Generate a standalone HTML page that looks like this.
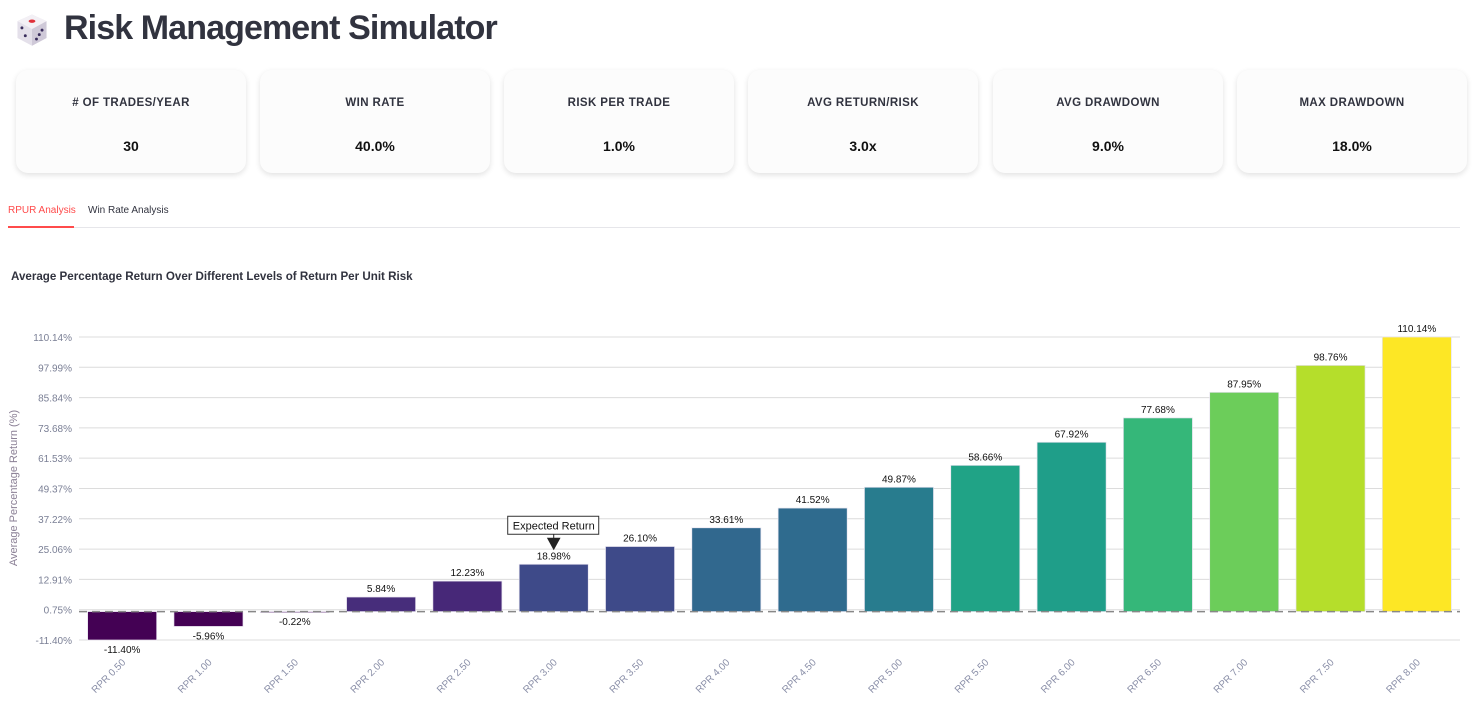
<!DOCTYPE html>
<html><head><meta charset="utf-8"><style>
body{margin:0;width:1472px;height:713px;background:#fff;font-family:"Liberation Sans",sans-serif;overflow:hidden;position:relative}
.title{position:absolute;left:64px;top:9px;font-size:34px;font-weight:bold;color:#31333f;letter-spacing:-0.9px}
.dice{position:absolute;left:13px;top:10px;width:38px;height:38px}
.card{position:absolute;top:70px;width:230px;height:103px;border-radius:12px;background:#fcfcfc;box-shadow:0 2px 6px rgba(0,0,0,0.12)}
.card .l{position:absolute;top:27px;width:100%;text-align:center;font-size:11.5px;font-weight:bold;letter-spacing:0.4px;color:#31333f}
.card .v{position:absolute;top:68px;width:100%;text-align:center;font-size:14px;font-weight:bold;color:#111}
.tab{position:absolute;top:205px;font-size:10px}
.ctitle{position:absolute;left:11px;top:270px;font-size:11.6px;font-weight:bold;color:#31333f}
</style></head><body>
<svg class="dice" viewBox="0 0 34 34">
<path d="M4 10 L17 4 L30 10 L30 25 L17 32 L4 25 Z" fill="#e4e0ea"/>
<path d="M17 17 L30 10 L30 25 L17 32 Z" fill="#cfc9d8"/>
<path d="M4 10 L17 4 L30 10 L17 17 Z" fill="#f3f0f5"/>
<ellipse cx="17" cy="10" rx="3" ry="1.5" fill="#e0303a"/>
<circle cx="8" cy="16" r="1.3" fill="#3a2d5c"/><circle cx="11" cy="23" r="1.3" fill="#3a2d5c"/>
<circle cx="21" cy="26" r="1.3" fill="#3a2d5c"/><circle cx="23.5" cy="22" r="1.3" fill="#3a2d5c"/><circle cx="26" cy="18" r="1.3" fill="#3a2d5c"/>
</svg>
<div class="title">Risk Management Simulator</div>

<div class="card" style="left:16px"><div class="l"># OF TRADES/YEAR</div><div class="v">30</div></div>
<div class="card" style="left:260px"><div class="l">WIN RATE</div><div class="v">40.0%</div></div>
<div class="card" style="left:504px"><div class="l">RISK PER TRADE</div><div class="v">1.0%</div></div>
<div class="card" style="left:748px"><div class="l">AVG RETURN/RISK</div><div class="v">3.0x</div></div>
<div class="card" style="left:993px"><div class="l">AVG DRAWDOWN</div><div class="v">9.0%</div></div>
<div class="card" style="left:1237px"><div class="l">MAX DRAWDOWN</div><div class="v">18.0%</div></div>

<div class="tab" style="left:8px;color:#ff4b4b">RPUR Analysis</div>
<div class="tab" style="left:88px;color:#31333f">Win Rate Analysis</div>
<div style="position:absolute;left:8px;top:227px;width:1452px;height:1px;background:#e6e6ea"></div>
<div style="position:absolute;left:8px;top:226px;width:66px;height:2px;background:#ff4b4b"></div>
<div class="ctitle">Average Percentage Return Over Different Levels of Return Per Unit Risk</div>

<svg id="chart" style="position:absolute;left:0;top:0" width="1472" height="713"></svg>
<script>
const categories=["RPR 0.50","RPR 1.00","RPR 1.50","RPR 2.00","RPR 2.50","RPR 3.00","RPR 3.50","RPR 4.00","RPR 4.50","RPR 5.00","RPR 5.50","RPR 6.00","RPR 6.50","RPR 7.00","RPR 7.50","RPR 8.00"];
const values=[-11.40,-5.96,-0.22,5.84,12.23,18.98,26.10,33.61,41.52,49.87,58.66,67.92,77.68,87.95,98.76,110.14];
const tickValues=[-11.40,0.75,12.91,25.06,37.22,49.37,61.53,73.68,85.84,97.99,110.14];
const expectedIndex=5;
const colors=["#440154","#440154","#440154","#472d7b","#472878","#3e4a89","#3e4a89","#31688e","#2f6b8e","#287c8e","#20a386","#1f9e89","#35b779","#6ccd5a","#b5de2b","#fde725"];
const NS="http://www.w3.org/2000/svg",svg=document.getElementById('chart');
const X0=79,X1=1460,Y0=640,Y1=337,vmin=-11.40,vmax=110.14;
const band=(X1-X0)/categories.length;
const y=v=>Y0-(v-vmin)/(vmax-vmin)*(Y0-Y1);
const xc=i=>X0+band*(i+0.5);
function mk(t,a){const e=document.createElementNS(NS,t);for(const k in a)e.setAttribute(k,a[k]);svg.appendChild(e);return e;}
tickValues.forEach(t=>{
  const g=mk('line',{x1:X0,x2:X1,y1:y(t),y2:y(t),stroke:'#dcdcdc','stroke-width':1});
  
  
  const l=mk('text',{x:72,y:y(t)+4,'text-anchor':'end','font-size':10,fill:'#7a7f95','font-family':'Liberation Sans, sans-serif'});
  l.textContent=t.toFixed(2)+'%';
  
  
});
const yt=mk('text',{x:17,y:488,transform:'rotate(-90 17 488)','text-anchor':'middle','font-size':11,fill:'#8a7f95','font-family':'Liberation Sans, sans-serif'});
yt.textContent='Average Percentage Return (%)';


const bw=band*0.8;
values.forEach((v,i)=>{
  const top=Math.min(y(v),y(0)),h=Math.abs(y(v)-y(0));
  const r=mk('rect',{x:xc(i)-bw/2,y:top,width:bw,height:Math.max(h,1),fill:colors[i],stroke:'#e8e4f0','stroke-width':0.7});
  
  
  const ty=v>=0?y(v)-5:y(v)+13;
  const t=mk('text',{x:xc(i),y:ty,'text-anchor':'middle','font-size':10,fill:'#111','font-family':'Liberation Sans, sans-serif'});
  t.textContent=v.toFixed(2)+'%';
  
  
  const xl=mk('text',{x:xc(i)+4,y:663,transform:'rotate(-45 '+(xc(i)+4)+' 663)','text-anchor':'end','font-size':10,fill:'#8a8fa8','font-family':'Liberation Sans, sans-serif'});
  xl.textContent=categories[i];
  
  
});
const zl=mk('line',{x1:X0,x2:X1,y1:y(0),y2:y(0),stroke:'#888','stroke-width':1.5,'stroke-dasharray':'8 5'});


const ex=xc(expectedIndex),ey=y(values[expectedIndex]);
const box=mk('rect',{x:ex-46,y:ey-48,width:91,height:18,fill:'#fff',stroke:'#333','stroke-width':1});


const at=mk('text',{x:ex,y:ey-35,'text-anchor':'middle','font-size':11,fill:'#111','font-family':'Liberation Sans, sans-serif'});
at.textContent='Expected Return';


const ar=mk('path',{d:'M'+ex+' '+(ey-30)+' V'+(ey-26)+' M'+(ex-6)+' '+(ey-26)+' L'+(ex+6)+' '+(ey-26)+' L'+ex+' '+(ey-15)+' Z',fill:'#222',stroke:'#222'});


</script>
</body></html>
